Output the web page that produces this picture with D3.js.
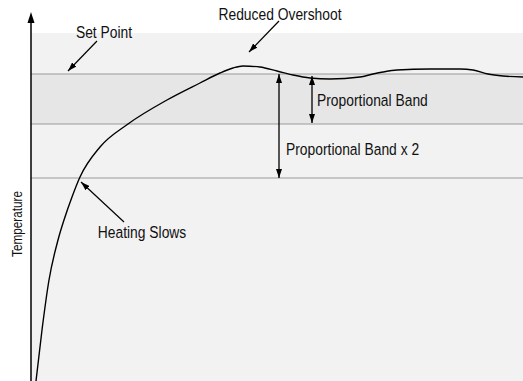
<!DOCTYPE html>
<html>
<head>
<meta charset="utf-8">
<script src="https://cdn.jsdelivr.net/npm/d3@7"></script>
<style>
  body { margin: 0; background: #fff; }
  text { font-family: "Liberation Sans Narrow", "Liberation Sans", Arial, sans-serif; fill: #111; }
</style>
</head>
<body>
<div id="viz"></div>
<script>
// chart size
const width = 523, height = 381;
const NARROW = 0.84; // squeeze text, condensed font isn't installed

// data: time (arbitrary units) vs temperature (arbitrary units)
const TIME = [5, 11, 18, 27, 33, 41, 49, 69, 97, 136, 169, 189, 202, 212, 229, 246, 262, 279, 299, 329, 342, 352, 366, 399, 429, 442, 457, 472, 492];
const TEMP = [0, 51, 101, 141, 161, 184, 204, 234, 257, 281, 298, 308, 313, 315, 314, 310, 306, 303, 302, 304, 307, 309, 311, 312, 312, 311, 307, 305, 304];

// reference levels
const SET_POINT = 307;
const BAND_LOW = 257;
const BAND2_LOW = 203;
const LEVELS = [SET_POINT, BAND_LOW, BAND2_LOW];

// annotations (text anchored, arrow from -> to, in data units)
const LABELS = ["Set Point", "Reduced Overshoot", "Heating Slows", "Proportional Band", "Proportional Band x 2"];
const LABEL_POS = [[73, 343], [249, 361], [111, 143], [286, 275], [255, 226]];
const LABEL_ANCHOR = ["middle", "middle", "middle", "start", "start"];
const POINTERS = [[[66, 340], [37, 310]], [[248, 360], [218, 329]], [[93, 159], [50, 199]]];
const SPANS = [[281, 305, 258], [248, SET_POINT, BAND2_LOW]]; // x, top, bottom

var svg = d3.select('#viz').append('svg').attr('width', width).attr('height', height);

var x = d3.scaleLinear().domain([0, 492]).range([31, 523]);
var y = d3.scaleLinear().domain([0, 348]).range([381, 33]);

// markers
var defs = svg.append('defs');
defs.append('marker').attr('id', 'head')
    .attr('markerUnits', 'userSpaceOnUse')
    .attr('viewBox', '0 0 9 6').attr('markerWidth', 9).attr('markerHeight', 6)
    .attr('refX', 9).attr('refY', 3).attr('orient', 'auto-start-reverse')
    .append('path').attr('d', 'M0,0 L9,3 L0,6 Z').attr('fill', '#000');

// background panel
svg.append('rect')
    .attr('x', x(0)).attr('y', y(348))
    .attr('width', x(492) - x(0)).attr('height', y(0) - y(348))
    .attr('fill', '#f2f2f2');

// proportional band
svg.append('rect')
    .attr('x', x(0)).attr('y', y(SET_POINT))
    .attr('width', x(492) - x(0)).attr('height', y(BAND_LOW) - y(SET_POINT))
    .attr('fill', '#e6e6e6');

svg.selectAll('line.level').data(LEVELS).enter().append('line')
    .attr('class', 'level')
    .attr('x1', x(0)).attr('x2', x(492))
    .attr('y1', d => y(d)).attr('y2', d => y(d))
    .attr('stroke', '#9a9a9a').attr('stroke-width', 1.2);

// axis
var axis = d3.axisLeft(y).tickValues([]).tickSizeOuter(0);
var g = svg.append('g').attr('transform', 'translate(' + x(0) + ',0)').call(axis);
g.select('.domain').attr('stroke', '#000').attr('stroke-width', 1.5)
    .attr('d', 'M0,' + y(0) + 'V' + y(358));
svg.append('path')
    .attr('d', 'M' + (x(0) - 3.5) + ',' + y(358) + 'L' + x(0) + ',' + (y(358) - 11) + 'L' + (x(0) + 3.5) + ',' + y(358) + 'Z')
    .attr('fill', '#000');

svg.append('text')
    .attr('transform', 'translate(22,' + y(157) + ') rotate(-90) scale(' + NARROW + ',1)')
    .attr('text-anchor', 'middle')
    .attr('font-size', 14)
    .text('Temperature');

// temperature curve
var line = d3.line()
    .x((d, i) => x(TIME[i]))
    .y(d => y(d))
    .curve(d3.curveMonotoneX);
svg.append('path').datum(TEMP)
    .attr('d', line)
    .attr('fill', 'none').attr('stroke', '#000').attr('stroke-width', 1.4);

// pointers
svg.selectAll('line.ptr').data(POINTERS).enter().append('line')
    .attr('class', 'ptr')
    .attr('x1', d => x(d[0][0])).attr('y1', d => y(d[0][1]))
    .attr('x2', d => x(d[1][0])).attr('y2', d => y(d[1][1]))
    .attr('stroke', '#000').attr('stroke-width', 1.2)
    .attr('marker-end', 'url(#head)');

svg.selectAll('line.span').data(SPANS).enter().append('line')
    .attr('class', 'span')
    .attr('x1', d => x(d[0])).attr('x2', d => x(d[0]))
    .attr('y1', d => y(d[1])).attr('y2', d => y(d[2]))
    .attr('stroke', '#000').attr('stroke-width', 1.3)
    .attr('marker-start', 'url(#head)').attr('marker-end', 'url(#head)');

svg.selectAll('text.lbl').data(LABELS).enter().append('text')
    .attr('class', 'lbl')
    .attr('transform', (d, i) => 'translate(' + x(LABEL_POS[i][0]) + ',' + y(LABEL_POS[i][1]) + ') scale(' + NARROW + ',1)')
    .attr('text-anchor', (d, i) => LABEL_ANCHOR[i])
    .attr('font-size', 16.5)
    .text(d => d);
</script>
</body>
</html>
